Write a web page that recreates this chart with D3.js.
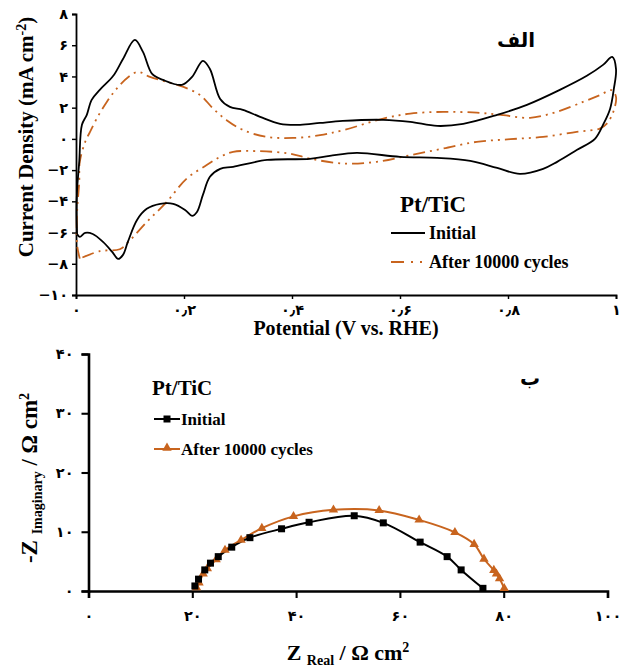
<!DOCTYPE html>
<html>
<head>
<meta charset="utf-8">
<script src="https://cdnjs.cloudflare.com/ajax/libs/d3/7.8.5/d3.min.js"></script>
<style>
  body { margin: 0; background: #fff; }
  svg { display: block; }
  text { font-family: "Liberation Serif", "DejaVu Sans", serif; font-weight: bold; fill: #000; }
  .tick text { font-family: "DejaVu Sans", sans-serif; font-size: 14.5px; }
</style>
</head>
<body>
<div id="chart"></div>
<script>
var width = 632;
var height = 668;
var orange = "#c8641e";

// --- panel (a): cyclic voltammetry, [potential V, current mA cm-2] ---
var cvInitial = [
  [0.002,-6.09],[0.001,-4.68],[0.002,-3.27],[0.006,-1.47],[0.011,0.90],[0.020,1.54],
  [0.029,2.50],[0.044,3.14],[0.069,4.04],[0.087,5.12],[0.109,6.34],[0.124,5.57],
  [0.141,4.16],[0.161,3.78],[0.196,3.46],[0.215,3.97],[0.235,5.00],[0.248,4.48],
  [0.267,2.56],[0.285,2.05],[0.309,1.86],[0.341,1.41],[0.378,0.96],[0.415,0.90],
  [0.452,1.02],[0.494,1.15],[0.569,1.22],[0.619,1.09],[0.669,0.83],[0.717,0.96],
  [0.780,1.54],[0.835,2.18],[0.896,3.14],[0.946,4.04],[0.976,4.74],[0.993,5.25],
  [1.000,4.48],[0.996,3.20],[0.989,1.92],[0.976,0.90],[0.961,0.00],[0.928,-0.70],
  [0.891,-1.47],[0.865,-1.92],[0.822,-2.24],[0.780,-1.86],[0.730,-1.41],[0.669,-1.22],
  [0.600,-1.15],[0.520,-0.90],[0.470,-1.09],[0.433,-1.28],[0.354,-1.35],[0.291,-1.79],
  [0.267,-1.92],[0.248,-2.43],[0.235,-3.59],[0.224,-4.68],[0.215,-4.93],[0.202,-4.55],
  [0.180,-4.16],[0.156,-4.16],[0.131,-4.48],[0.113,-5.19],[0.096,-6.60],[0.087,-7.43],
  [0.078,-7.69],[0.067,-7.24],[0.050,-6.60],[0.031,-6.09],[0.017,-6.02],[0.007,-6.28],
  [0.002,-6.09]
];
var cvAfter = [
  [0.007,-7.67],[0.002,-6.79],[0.002,-4.68],[0.006,-2.75],[0.007,-1.47],[0.017,-0.19],
  [0.026,0.45],[0.038,1.28],[0.057,2.37],[0.075,3.20],[0.097,3.97],[0.115,4.29],
  [0.137,3.97],[0.168,3.65],[0.199,3.33],[0.230,2.80],[0.254,1.94],[0.279,1.20],
  [0.310,0.56],[0.353,0.13],[0.402,0.06],[0.452,0.24],[0.495,0.56],[0.569,1.30],
  [0.619,1.62],[0.680,1.73],[0.742,1.68],[0.791,1.52],[0.841,1.35],[0.890,1.73],
  [0.939,2.37],[0.970,2.80],[0.992,3.12],[1.000,2.69],[0.995,1.73],[0.983,0.98],
  [0.970,0.66],[0.927,0.45],[0.865,0.13],[0.804,-0.02],[0.742,-0.19],[0.680,-0.62],
  [0.619,-1.04],[0.557,-1.47],[0.495,-1.58],[0.433,-1.26],[0.396,-0.94],[0.341,-0.79],
  [0.291,-0.83],[0.267,-1.15],[0.242,-1.68],[0.205,-2.54],[0.168,-4.04],[0.131,-5.32],
  [0.097,-6.60],[0.081,-7.07],[0.044,-7.19],[0.007,-7.67]
];
var cvXTicks = [0, 0.2, 0.4, 0.6, 0.8, 1];
var cvXLabels = ["۰", "۰٫۲", "۰٫۴", "۰٫۶", "۰٫۸", "۱"];
var cvYTicks = [8, 6, 4, 2, 0, -2, -4, -6, -8, -10];
var cvYLabels = ["۸", "۶", "۴", "۲", "۰", "−۲", "−۴", "−۶", "−۸", "−۱۰"];

// --- panel (b): Nyquist plot, [Z real, -Z imaginary] ---
var eisInitial = [
  [20.5,0.85],[21.2,2.0],[22.4,3.56],[23.5,4.7],[25.0,5.8],[27.6,7.4],[31.1,9.0],
  [37.2,10.5],[42.5,11.6],[51.2,12.7],[56.8,11.5],[63.9,8.25],[69.1,5.8],[71.8,3.56],[76.0,0.45]
];
var eisAfter = [
  [20.8,0.6],[21.3,1.4],[22.1,2.9],[22.9,3.8],[24.6,5.3],[26.3,6.9],[29.4,8.6],
  [33.4,10.6],[39.5,12.6],[47.2,13.7],[56.0,13.6],[63.7,12.0],[70.6,9.9],[74.3,7.9],
  [76.2,5.4],[78.1,3.5],[78.6,2.9],[79.2,2.1],[80.1,0.45]
];
var eisXTicks = [0, 20, 40, 60, 80, 100];
var eisXLabels = ["۰", "۲۰", "۴۰", "۶۰", "۸۰", "۱۰۰"];
var eisYTicks = [0, 10, 20, 30, 40];
var eisYLabels = ["۰", "۱۰", "۲۰", "۳۰", "۴۰"];
var seriesNames = ["Initial", "After 10000 cycles"];

var svg = d3.select("#chart").append("svg")
    .attr("width", width)
    .attr("height", height);

function styleAxis(g, w) {
    g.select(".domain").attr("stroke", "#000").attr("stroke-width", w);
    g.selectAll(".tick line").attr("stroke", "#000").attr("stroke-width", w * 0.8);
}

// ================= panel (a) =================
var xCV = d3.scaleLinear().domain([0, 1]).range([76, 616]);
var yCV = d3.scaleLinear().domain([-10, 8]).range([295, 14]);

svg.append("g")
    .attr("transform", "translate(0," + yCV(-10) + ")")
    .call(d3.axisBottom(xCV).tickValues(cvXTicks).tickSizeOuter(0).tickSize(4).tickPadding(6)
        .tickFormat(function(d, i) { return cvXLabels[i]; }))
    .call(function(g) { styleAxis(g, 1.8); });

svg.append("g")
    .attr("transform", "translate(" + xCV(0) + ",0)")
    .call(d3.axisLeft(yCV).tickValues(cvYTicks).tickSizeOuter(0).tickSize(4).tickPadding(4)
        .tickFormat(function(d, i) { return cvYLabels[i]; }))
    .call(function(g) { styleAxis(g, 1.8); });

var cvLine = d3.line()
    .x(function(d) { return xCV(d[0]); })
    .y(function(d) { return yCV(d[1]); })
    .curve(d3.curveCatmullRom.alpha(0.5));

svg.append("path").datum(cvAfter)
    .attr("d", cvLine)
    .attr("fill", "none")
    .attr("stroke", orange)
    .attr("stroke-width", 1.8)
    .attr("stroke-dasharray", "12,5,2,5,2,5");

svg.append("path").datum(cvInitial)
    .attr("d", cvLine)
    .attr("fill", "none")
    .attr("stroke", "#000")
    .attr("stroke-width", 1.8);

// axis titles
svg.append("text")
    .attr("x", 346).attr("y", 335)
    .attr("text-anchor", "middle")
    .style("font-size", "20px")
    .text("Potential (V vs. RHE)");

var yt = svg.append("text")
    .attr("transform", "translate(33,137) rotate(-90)")
    .attr("text-anchor", "middle")
    .style("font-size", "21px");
yt.append("tspan").text("Current Density (mA cm");
yt.append("tspan").attr("dy", -7).style("font-size", "14px").text("-2");
yt.append("tspan").attr("dy", 7).text(")");

svg.append("text")
    .attr("x", 516).attr("y", 47)
    .attr("text-anchor", "middle")
    .style("font-family", "DejaVu Sans, sans-serif")
    .style("font-size", "20px")
    .text("الف");

// legend (a)
svg.append("text").attr("x", 400).attr("y", 212).style("font-size", "23px").text("Pt/TiC");
svg.append("line").attr("x1", 391).attr("x2", 425).attr("y1", 233).attr("y2", 233)
    .attr("stroke", "#000").attr("stroke-width", 1.8);
svg.append("line").attr("x1", 391).attr("x2", 425).attr("y1", 262).attr("y2", 262)
    .attr("stroke", orange).attr("stroke-width", 1.8).attr("stroke-dasharray", "13,7,2,7,2,7");
svg.append("text").attr("x", 429).attr("y", 239).style("font-size", "18px").text(seriesNames[0]);
svg.append("text").attr("x", 429).attr("y", 268).style("font-size", "18px").text(seriesNames[1]);

// ================= panel (b) =================
var xZ = d3.scaleLinear().domain([0, 100]).range([88.5, 607.5]);
var yZ = d3.scaleLinear().domain([0, 40]).range([591, 354]);

svg.append("g")
    .attr("transform", "translate(0," + yZ(0) + ")")
    .call(d3.axisBottom(xZ).tickValues(eisXTicks).tickSizeOuter(0).tickSize(7).tickPadding(13)
        .tickFormat(function(d, i) { return eisXLabels[i]; }))
    .call(function(g) { styleAxis(g, 2.6); });

svg.append("g")
    .attr("transform", "translate(" + xZ(0) + ",0)")
    .call(d3.axisLeft(yZ).tickValues(eisYTicks).tickSizeOuter(0).tickSize(7).tickPadding(8)
        .tickFormat(function(d, i) { return eisYLabels[i]; }))
    .call(function(g) { styleAxis(g, 2.6); });

var zLine = d3.line()
    .x(function(d) { return xZ(d[0]); })
    .y(function(d) { return yZ(d[1]); })
    .curve(d3.curveCatmullRom.alpha(0.5));

svg.append("path").datum(eisAfter)
    .attr("d", zLine).attr("fill", "none")
    .attr("stroke", orange).attr("stroke-width", 2);
svg.append("path").datum(eisInitial)
    .attr("d", zLine).attr("fill", "none")
    .attr("stroke", "#000").attr("stroke-width", 2);

var tri = d3.symbol().type(d3.symbolTriangle).size(38);
svg.append("g").selectAll("path").data(eisAfter).enter().append("path")
    .attr("d", tri)
    .attr("transform", function(d) { return "translate(" + xZ(d[0]) + "," + yZ(d[1]) + ")"; })
    .attr("fill", orange);

svg.append("g").selectAll("rect").data(eisInitial).enter().append("rect")
    .attr("x", function(d) { return xZ(d[0]) - 3.5; })
    .attr("y", function(d) { return yZ(d[1]) - 3.5; })
    .attr("width", 7).attr("height", 7)
    .attr("fill", "#000");

// axis titles (b)
var xt = svg.append("text")
    .attr("x", 348).attr("y", 660)
    .attr("text-anchor", "middle")
    .style("font-size", "22px");
xt.append("tspan").text("Z ");
xt.append("tspan").attr("dy", 5).style("font-size", "14px").text("Real");
xt.append("tspan").attr("dy", -5).text(" / Ω cm");
xt.append("tspan").attr("dy", -8).style("font-size", "14px").text("2");

var yt2 = svg.append("text")
    .attr("transform", "translate(37,478) rotate(-90)")
    .attr("text-anchor", "middle")
    .style("font-size", "23px");
yt2.append("tspan").text("-Z ");
yt2.append("tspan").attr("dy", 5).style("font-size", "14px").text("Imaginary");
yt2.append("tspan").attr("dy", -5).text(" / Ω cm");
yt2.append("tspan").attr("dy", -8).style("font-size", "14px").text("2");

svg.append("text")
    .attr("x", 530).attr("y", 385)
    .attr("text-anchor", "middle")
    .style("font-family", "DejaVu Sans, sans-serif")
    .style("font-size", "20px")
    .text("ب");

// legend (b)
svg.append("text").attr("x", 152).attr("y", 395).style("font-size", "21px").text("Pt/TiC");
svg.append("line").attr("x1", 154).attr("x2", 180).attr("y1", 419).attr("y2", 419)
    .attr("stroke", "#000").attr("stroke-width", 2);
svg.append("rect").attr("x", 163.5).attr("y", 415.5).attr("width", 7).attr("height", 7).attr("fill", "#000");
svg.append("line").attr("x1", 154).attr("x2", 180).attr("y1", 449).attr("y2", 449)
    .attr("stroke", orange).attr("stroke-width", 2);
svg.append("path").attr("d", tri).attr("transform", "translate(167,448)").attr("fill", orange);
svg.append("text").attr("x", 181).attr("y", 425).style("font-size", "17px").text(seriesNames[0]);
svg.append("text").attr("x", 181).attr("y", 455).style("font-size", "17px").text(seriesNames[1]);
</script>
</body>
</html>
